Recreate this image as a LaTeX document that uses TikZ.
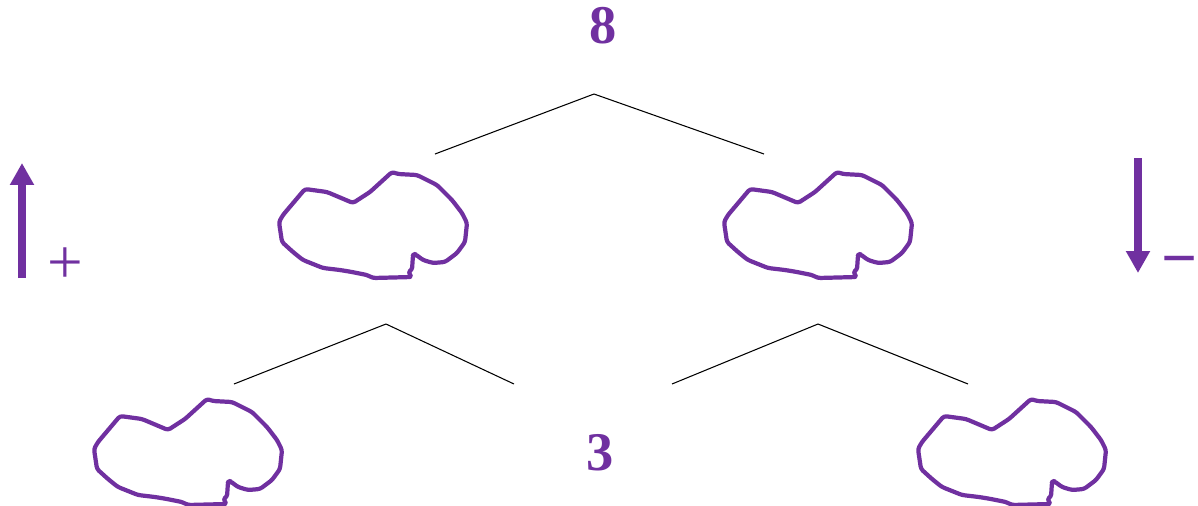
\documentclass[tikz,border=0pt]{standalone}
\usepackage{fontspec}
\setmainfont{Liberation Serif}
\usetikzlibrary{arrows.meta}
\definecolor{grape}{HTML}{7030A0}
\tikzset{%
    blob/.pic={
        \draw[grape, line width=2.4pt, line join=round, rounded corners=1.5pt]
        (-68,-36) -- (-46,-33) -- (-20,-22) -- (-3,-33) -- (19,-53) -- (25,-51)
        -- (44,-50) -- (64,-40) -- (79,-25) -- (89,-12) -- (94,-2) -- (92,17)
        -- (84,28) -- (72,37) -- (60,38) -- (50,35) -- (42,29) -- (40,30)
        -- (39,45) -- (35,47) -- (39,52) -- (0,53) -- (-6,50) -- (-21,47)
        -- (-33,45) -- (-50,43) -- (-70,35) -- (-80,27) -- (-91,17) -- (-94,-3)
        -- (-90,-10) -- cycle;
    }
}
\tikzstyle{num} = [text=grape, font=\fontsize{31}{36}\selectfont\bfseries, anchor=base]
\tikzstyle{sign} = [text=grape, inner sep=0pt, font=\fontsize{36}{40}\selectfont]
\tikzstyle{branch} = [black, line width=0.6pt]
\tikzstyle{bigarrow} = [grape, line width=4pt, -{Triangle[length=12.5pt, width=13pt]}]

\begin{document}
\begin{tikzpicture}[x=0.02cm, y=-0.02cm]
    \useasboundingbox (0,0) rectangle (1198,505);

    \node (eight) [num] at (603,43) {8};
    \node (three) [num] at (600,470) {3};

    \pic (tl) at (373,225) {blob};
    \pic (tr) at (818,225) {blob};
    \pic (bl) at (188,452) {blob};
    \pic (br) at (1012,452) {blob};

    % branch ends
    \coordinate (eight-fork) at (594,94);
    \coordinate (tl-in) at (435,154);
    \coordinate (tr-in) at (764,154);
    \coordinate (tl-fork) at (386,324);
    \coordinate (tr-fork) at (818,324);
    \coordinate (bl-in) at (234,384);
    \coordinate (three-l) at (514,384);
    \coordinate (three-r) at (672,384);
    \coordinate (br-in) at (968,384);

    \draw [branch] (eight-fork) -- (tl-in);
    \draw [branch] (eight-fork) -- (tr-in);
    \draw [branch] (tl-fork) -- (bl-in);
    \draw [branch] (tl-fork) -- (three-l);
    \draw [branch] (tr-fork) -- (three-r);
    \draw [branch] (tr-fork) -- (br-in);

    % up and down
    \coordinate (up-foot) at (22,278);
    \coordinate (up-tip) at (22,163);
    \coordinate (down-top) at (1138,158);
    \coordinate (down-tip) at (1138,273);
    \draw [bigarrow] (up-foot) -- (up-tip);
    \draw [bigarrow] (down-top) -- (down-tip);

    \node (plus) [sign] at (65,266) {+};
    \node (minus) [sign, font=\fontsize{36}{40}\selectfont\bfseries] at (1180,268) {−};
\end{tikzpicture}
\end{document}
